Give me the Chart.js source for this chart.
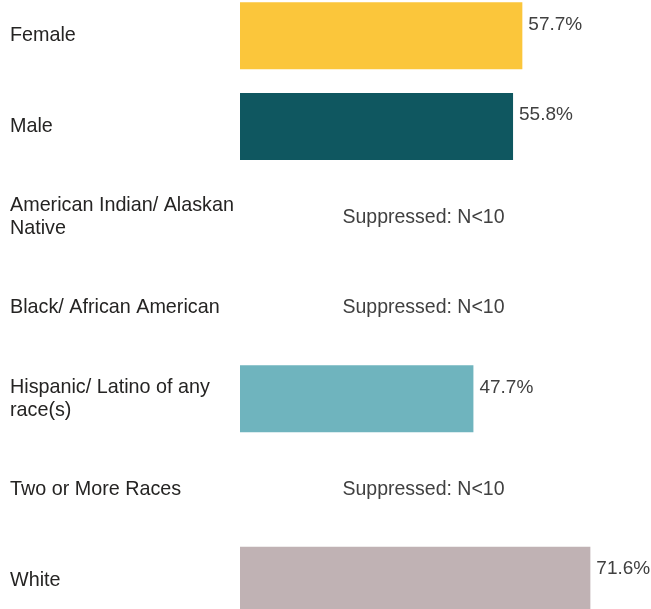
<!DOCTYPE html>
<html>
<head>
<meta charset="utf-8">
<script src="https://cdn.jsdelivr.net/npm/chart.js@4/dist/chart.umd.min.js"></script>
<style>
  html, body { margin: 0; padding: 0; background: #ffffff; overflow: hidden; }
  #wrap { position: relative; width: 651px; height: 609px; overflow: hidden; }
  #c { position: absolute; left: 0; top: -21px; }
</style>
</head>
<body>
<div id="wrap"><canvas id="c" width="651" height="658"></canvas></div>
<script>
const categories = [
  'Female',
  'Male',
  ['American Indian/ Alaskan', 'Native'],
  'Black/ African American',
  ['Hispanic/ Latino of any', 'race(s)'],
  'Two or More Races',
  'White'
];
const values = [57.7, 55.8, null, null, 47.7, null, 71.6];
const barColors = ['#FBC63B', '#0F5760', null, null, '#6FB4BE', null, '#C0B2B4'];
const suppressedText = 'Suppressed: N<10';
const xMax = 75;

const FONT = 'Arial, "Liberation Sans", sans-serif';

const labelPlugin = {
  id: 'valueLabels',
  afterDatasetsDraw(chart) {
    const ctx = chart.ctx;
    const meta = chart.getDatasetMeta(0);
    const area = chart.chartArea;
    const yScale = chart.scales.y;
    ctx.save();
    ctx.textBaseline = 'middle';
    values.forEach((v, i) => {
      if (v === null) {
        ctx.font = '19.5px ' + FONT;
        ctx.fillStyle = '#404040';
        ctx.textAlign = 'center';
        ctx.fillText(suppressedText, (area.left + area.right) / 2, yScale.getPixelForValue(i));
      } else {
        const bar = meta.data[i];
        ctx.font = '19px ' + FONT;
        ctx.fillStyle = '#404040';
        ctx.textAlign = 'left';
        ctx.fillText(v.toFixed(1) + '%', bar.x + 6, bar.y - bar.height / 2 + 22);
      }
    });
    ctx.restore();
  }
};

new Chart(document.getElementById('c'), {
  type: 'bar',
  data: {
    labels: categories,
    datasets: [{
      data: values,
      backgroundColor: barColors,
      borderWidth: 0,
      barPercentage: 0.736,
      categoryPercentage: 1.0
    }]
  },
  options: {
    indexAxis: 'y',
    responsive: false,
    animation: false,
    events: [],
    layout: { padding: { left: 10, right: 44, top: 0, bottom: 0 } },
    plugins: {
      legend: { display: false },
      tooltip: { enabled: false }
    },
    scales: {
      x: {
        display: false,
        min: 0,
        max: xMax
      },
      y: {
        grid: { display: false },
        border: { display: false },
        ticks: {
          crossAlign: 'far',
          color: '#252423',
          padding: 0,
          font: { family: FONT, size: 19.75, lineHeight: 1.15 }
        },
        afterFit(scale) { scale.width = 230; }
      }
    }
  },
  plugins: [labelPlugin]
});
</script>
</body>
</html>
